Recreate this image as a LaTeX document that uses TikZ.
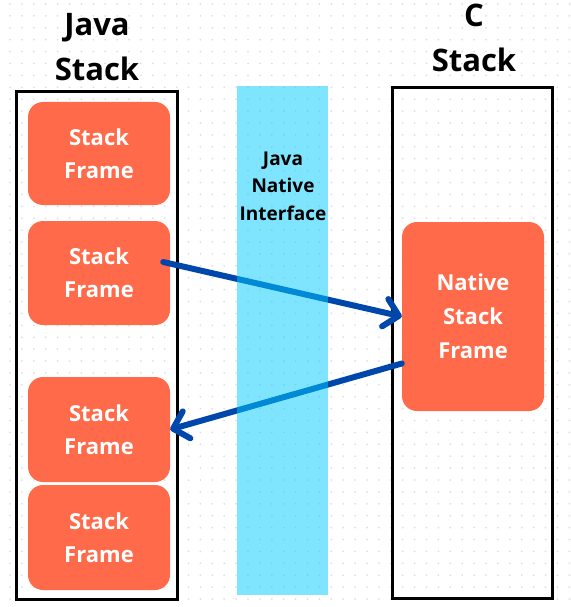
\documentclass[tikz,border=0pt]{standalone}
\usepackage{fontspec}
\setmainfont{Open Sans}
\usepackage{tikz}
\usetikzlibrary{arrows.meta,positioning}
\definecolor{framecol}{RGB}{255,107,74}
\definecolor{callcol}{RGB}{0,71,171}
\definecolor{jnicol}{RGB}{0,204,255}

\begin{document}
\begin{tikzpicture}[
  x=1pt, y=-1pt,
  stackbox/.style={draw, line width=3pt, minimum width=160pt},
  fr/.style={fill=framecol, rounded corners=15pt, minimum width=142pt,
    text=white, font=\fontsize{22}{33}\selectfont\bfseries, align=center},
  title/.style={font=\fontsize{31}{45}\selectfont\bfseries, align=center},
  call/.style={-{Straight Barb[length=14pt,width=28pt,round]}, line width=6pt,
    line cap=round, callcol}
]
\useasboundingbox (0,0) rectangle (570,607);
% dot grid of the canvas
\foreach \i in {0,...,47}
  \foreach \j in {0,...,50}
    \fill[black!13] (10+11.9*\i, 4+11.9*\j) circle (1pt);

\node[stackbox, minimum width=161pt, minimum height=507pt] (jstack) at (96.5,345.5) {};
\node[stackbox, minimum height=510pt] (cstack) at (472,343) {};
\node[title] (jtitle) at (97,47) {Java\\Stack};
\node[title] (ctitle) at (474,38) {C\\Stack};

\node[fr, minimum height=103pt] (fr1) at (99,153.5) {Stack\\Frame};
\node[fr, minimum height=104pt] (fr2) at (99,273) {Stack\\Frame};
\node[fr, minimum height=105pt] (fr3) at (99,429.5) {Stack\\Frame};
\node[fr, minimum height=105pt] (fr4) at (99,537.5) {Stack\\Frame};
\node[fr, minimum height=189pt, font=\fontsize{22}{34}\selectfont\bfseries]
  (native) at (473,316.5) {Native\\Stack\\Frame};

\draw[call] ([xshift=-7pt,yshift=11pt]fr2.east) -- (native.west);
\draw[call] ([yshift=-47pt]native.west) -- (fr3.east);

\node[fill=jnicol, opacity=0.5, minimum width=91pt, minimum height=509pt,
  inner sep=0pt] (jni) at (282.5,340.5) {};
\node[font=\fontsize{19}{27.5}\selectfont\bfseries, align=center]
  (jnitext) at (283,186) {Java\\Native\\Interface};
\end{tikzpicture}
\end{document}
